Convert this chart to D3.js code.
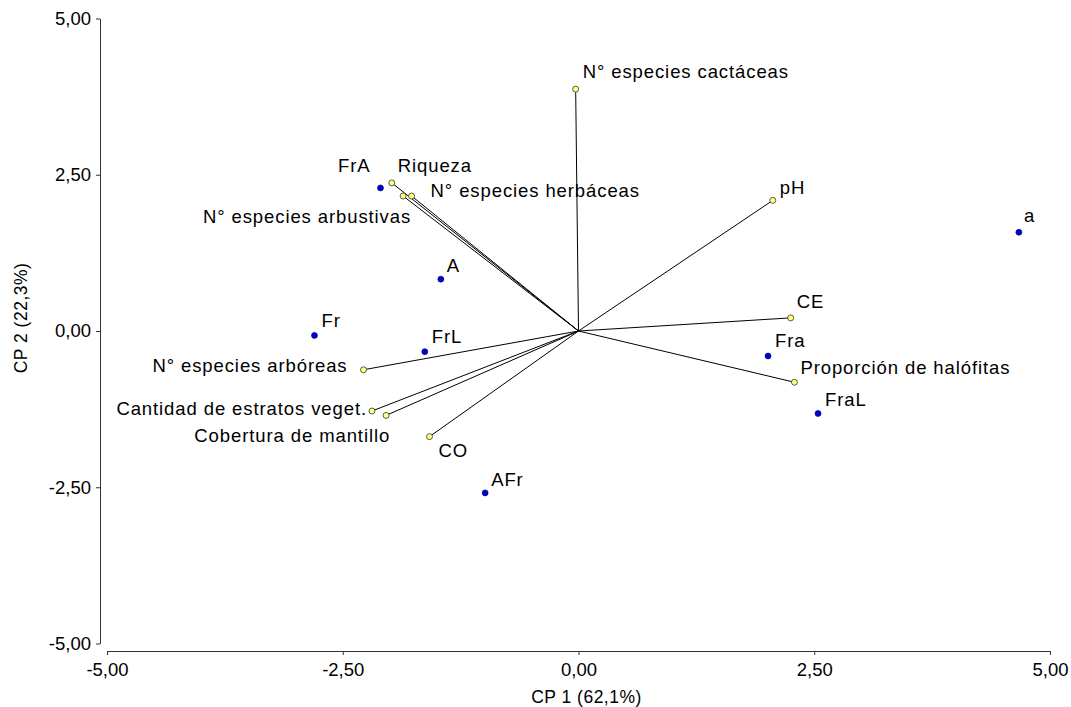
<!DOCTYPE html>
<html>
<head>
<meta charset="utf-8">
<script src="https://cdn.jsdelivr.net/npm/d3@7/dist/d3.min.js"></script>
<style>
  html, body { margin: 0; padding: 0; background: #fff; }
  svg { display: block; font-family: "Liberation Sans", Arial, sans-serif; }
</style>
</head>
<body>
<svg id="chart" width="1071" height="707"></svg>
<script>
// ---- data ----
const tickValues = [-5, -2.5, 0, 2.5, 5];
const xTitle = "CP 1 (62,1%)";
const yTitle = "CP 2 (22,3%)";

// observations (blue points)
const obsNames = ["FrA", "A", "Fr", "FrL", "AFr", "a", "Fra", "FraL"];
const obsX     = [-2.10, -1.46, -2.80, -1.63, -0.99, 4.67, 2.01, 2.54];
const obsY     = [ 2.29,  0.83, -0.07, -0.33, -2.59, 1.58, -0.40, -1.32];

// variables (yellow vectors)
const varNames = ["N° especies cactáceas", "pH", "CE", "Proporción de halófitas",
                  "Riqueza", "N° especies herbáceas", "N° especies arbustivas",
                  "N° especies arbóreas", "Cantidad de estratos veget.",
                  "Cobertura de mantillo", "CO"];
const varX     = [-0.03, 2.06, 2.25, 2.29, -1.98, -1.77, -1.86, -2.28, -2.19, -2.04, -1.58];
const varY     = [ 3.87, 2.09, 0.21, -0.82, 2.37, 2.16, 2.16, -0.62, -1.28, -1.35, -1.69];

// ---- label layout (pixel offsets from the marker, text-anchor) ----
const obsLabelLayout = {
  "FrA": [-10, -16, "end"], "A": [6, -7, "start"], "Fr": [7, -8, "start"],
  "FrL": [7, -9, "start"], "AFr": [6, -7, "start"], "a": [5, -10, "start"],
  "Fra": [7, -9, "start"], "FraL": [7, -8, "start"]
};
const varLabelLayout = {
  "N° especies cactáceas": [7, -11, "start"], "pH": [7, -6, "start"],
  "CE": [6, -10, "start"], "Proporción de halófitas": [6, -8, "start"],
  "Riqueza": [6, -11, "start"], "N° especies herbáceas": [19, 1, "start"],
  "N° especies arbustivas": [8, 27, "end"], "N° especies arbóreas": [-16, 2, "end"],
  "Cantidad de estratos veget.": [-5, 4, "end"], "Cobertura de mantillo": [4, 27, "end"],
  "CO": [9, 20, "start"]
};

// ---- chart ----
const svg = d3.select("#chart");
const x = d3.scaleLinear().domain([-5, 5]).range([107, 1050]);
const y = d3.scaleLinear().domain([-5, 5]).range([643.5, 18.5]);
const fmt = v => d3.format(".2f")(v).replace(".", ",").replace("\u2212", "-");
const fontSize = 18.5;
const tickFont = 18.5;
const titleFont = 17.5;
const labelSpacing = "0.9px";

const xAxis = svg.append("g").attr("transform", "translate(0,651)")
  .call(d3.axisBottom(x).tickValues(tickValues).tickFormat(fmt).tickSize(4).tickSizeOuter(0).tickPadding(8));
const yAxis = svg.append("g").attr("transform", "translate(100,0)")
  .call(d3.axisLeft(y).tickValues(tickValues).tickFormat(fmt).tickSize(4).tickSizeOuter(0).tickPadding(5));
[xAxis, yAxis].forEach(g => {
  g.selectAll("path, line").attr("stroke", "#333").attr("stroke-width", 1);
  g.selectAll("text").attr("font-size", tickFont).attr("fill", "#000")
    .attr("font-family", "'Liberation Sans', Arial, sans-serif");
});

svg.append("text").attr("x", x(0) + 8).attr("y", 703).attr("text-anchor", "middle")
  .attr("font-size", titleFont).attr("letter-spacing", "0.5px").text(xTitle);
svg.append("text").attr("transform", `translate(27,${y(0) - 13}) rotate(-90)`)
  .attr("text-anchor", "middle").attr("font-size", titleFont).attr("letter-spacing", "0.5px").text(yTitle);

// vectors
const vars = varNames.map((n, i) => ({name: n, x: varX[i], y: varY[i]}));
const obs = obsNames.map((n, i) => ({name: n, x: obsX[i], y: obsY[i]}));

svg.append("g").selectAll("line").data(vars).join("line")
  .attr("x1", x(0)).attr("y1", y(0))
  .attr("x2", d => x(d.x)).attr("y2", d => y(d.y))
  .attr("stroke", "#000").attr("stroke-width", 1);

svg.append("g").selectAll("circle").data(vars).join("circle")
  .attr("cx", d => x(d.x)).attr("cy", d => y(d.y)).attr("r", 3)
  .attr("fill", "#ffff80").attr("stroke", "#333").attr("stroke-width", 0.8);

svg.append("g").selectAll("circle").data(obs).join("circle")
  .attr("cx", d => x(d.x)).attr("cy", d => y(d.y)).attr("r", 3)
  .attr("fill", "#0000d8").attr("stroke", "#000060").attr("stroke-width", 0.6);

svg.append("g").selectAll("text").data(vars).join("text")
  .attr("x", d => x(d.x) + varLabelLayout[d.name][0])
  .attr("y", d => y(d.y) + varLabelLayout[d.name][1])
  .attr("text-anchor", d => varLabelLayout[d.name][2])
  .attr("font-size", fontSize).attr("letter-spacing", labelSpacing)
  .attr("fill", "#000").text(d => d.name);

svg.append("g").selectAll("text").data(obs).join("text")
  .attr("x", d => x(d.x) + obsLabelLayout[d.name][0])
  .attr("y", d => y(d.y) + obsLabelLayout[d.name][1])
  .attr("text-anchor", d => obsLabelLayout[d.name][2])
  .attr("font-size", fontSize).attr("letter-spacing", labelSpacing)
  .attr("fill", "#000").text(d => d.name);
</script>
</body>
</html>
